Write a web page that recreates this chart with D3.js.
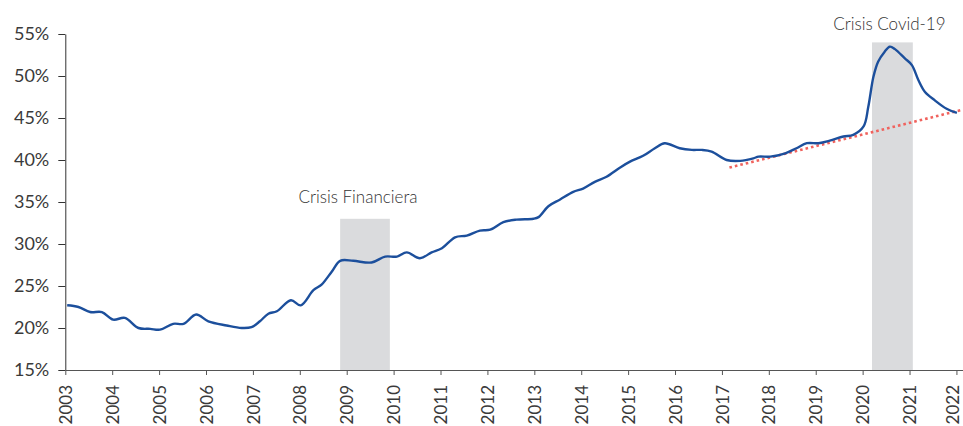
<!DOCTYPE html>
<html>
<head>
<meta charset="utf-8">
<script src="https://cdn.jsdelivr.net/npm/d3@7"></script>
<style>
  html, body { margin: 0; padding: 0; background: #ffffff; }
  svg { display: block; }
  .tick text { font-family: Lato, "Open Sans", sans-serif; fill: #3a3a3a; }
  .annot { font-family: Lato, "Open Sans", sans-serif; font-weight: 300; fill: #333; }
</style>
</head>
<body>
<svg id="chart" width="963" height="426"></svg>
<script>
// ---- Data (decimal year, percent) ----
const dates = [
  2003.04, 2003.28, 2003.53, 2003.78, 2004.02, 2004.27, 2004.56, 2004.81,
  2005.02, 2005.30, 2005.52, 2005.79, 2006.05, 2006.44, 2006.76, 2006.97,
  2007.15, 2007.33, 2007.51, 2007.81, 2008.02, 2008.29, 2008.47, 2008.68,
  2008.86, 2009.14, 2009.53, 2009.82, 2010.07, 2010.28, 2010.56, 2010.81,
  2011.03, 2011.31, 2011.56, 2011.84, 2012.06, 2012.34, 2012.62, 2012.98,
  2013.09, 2013.30, 2013.55, 2013.83, 2014.04, 2014.29, 2014.54, 2014.83,
  2015.04, 2015.32, 2015.57, 2015.78, 2016.10, 2016.36, 2016.57, 2016.78,
  2017.10, 2017.39, 2017.67, 2017.78, 2018.03, 2018.35, 2018.59, 2018.81,
  2019.06, 2019.30, 2019.59, 2019.80, 2020.02, 2020.12, 2020.23, 2020.33,
  2020.47, 2020.58, 2020.69, 2020.90, 2021.05, 2021.19, 2021.33, 2021.54,
  2021.79, 2022.01
];
const values = [
  22.7, 22.5, 21.9, 21.9, 21.0, 21.2, 20.0, 19.9,
  19.8, 20.5, 20.5, 21.6, 20.8, 20.3, 20.0, 20.1,
  20.8, 21.7, 22.0, 23.3, 22.7, 24.5, 25.2, 26.7,
  28.0, 28.0, 27.8, 28.5, 28.5, 29.0, 28.3, 29.0,
  29.5, 30.8, 31.0, 31.6, 31.7, 32.6, 32.9, 33.0,
  33.2, 34.5, 35.3, 36.2, 36.6, 37.4, 38.0, 39.1,
  39.8, 40.5, 41.4, 42.0, 41.4, 41.2, 41.2, 41.0,
  40.0, 39.9, 40.2, 40.4, 40.4, 40.8, 41.4, 42.0,
  42.0, 42.3, 42.8, 43.0, 44.0, 46.3, 49.9, 51.7,
  52.9, 53.5, 53.2, 52.1, 51.3, 49.5, 48.1, 47.1,
  46.1, 45.6
];

// Trend (dotted red line)
const trendDates = [2017.16, 2022.14];
const trendValues = [39.1, 46.0];

// Crisis shaded periods
const crisisLabels = ["Crisis Financiera", "Crisis Covid-19"];
const crisisStart = [2008.86, 2020.20];
const crisisEnd = [2009.92, 2021.07];
const crisisTop = [33.0, 54.0];

// Ticks
const yearTicks = d3.range(2003, 2023);
const yTicks = [15, 20, 25, 30, 35, 40, 45, 50, 55];

// ---- Chart ----
const svg = d3.select("#chart");
const x = d3.scaleLinear().domain([2003, 2022.14]).range([65.3, 963]);
const y = d3.scaleLinear().domain([15, 55]).range([370, 34]);

// shaded rects
const g = svg.append("g");
g.selectAll("rect.crisis")
  .data(crisisLabels.map((l, i) => ({l, s: crisisStart[i], e: crisisEnd[i], t: crisisTop[i]})))
  .join("rect")
  .attr("class", "crisis")
  .attr("x", d => x(d.s))
  .attr("width", d => x(d.e) - x(d.s))
  .attr("y", d => y(d.t))
  .attr("height", d => y(15) - y(d.t))
  .attr("fill", "#dadbdd");

// labels
const labelOffsets = [{dx: -7, dy: -16}, {dx: -3, dy: -12}];
g.selectAll("text.annot")
  .data(crisisLabels.map((l, i) => ({l, s: crisisStart[i], e: crisisEnd[i], t: crisisTop[i], o: labelOffsets[i]})))
  .join("text")
  .attr("class", "annot")
  .attr("x", d => (x(d.s) + x(d.e)) / 2 + d.o.dx)
  .attr("y", d => y(d.t) + d.o.dy)
  .attr("text-anchor", "middle")
  .attr("font-size", 17)
  .text(d => d.l);

// axes
const yAxis = d3.axisLeft(y).tickValues(yTicks).tickFormat(d => d + "%").tickSize(7).tickSizeOuter(0).tickPadding(9);
const yg = svg.append("g").attr("transform", `translate(${x(2003)},0)`).call(yAxis);
yg.selectAll("text").attr("font-size", 18);
yg.selectAll("line, path").attr("stroke", "#333");

const xAxis = d3.axisBottom(x).tickValues(yearTicks).tickFormat(d3.format("d")).tickSize(5).tickSizeOuter(0);
const xg = svg.append("g").attr("transform", `translate(0,${y(15)})`).call(xAxis);
xg.selectAll("line, path").attr("stroke", "#555");
xg.selectAll("text")
  .attr("font-size", 17)
  .attr("transform", d => (x(d) > 950 ? "translate(-4,0) " : "") + "rotate(-90)")
  .attr("text-anchor", "end")
  .attr("x", -15)
  .attr("y", 0)
  .attr("dy", "0.36em");

// trend line
const pts = dates.map((d, i) => [d, values[i]]);
const trend = trendDates.map((d, i) => [d, trendValues[i]]);
svg.append("path")
  .datum(trend)
  .attr("d", d3.line().x(d => x(d[0])).y(d => y(d[1])))
  .attr("fill", "none")
  .attr("stroke", "#f0625d")
  .attr("stroke-width", 2.6)
  .attr("stroke-dasharray", "2.6 3");

// main line
svg.append("path")
  .datum(pts)
  .attr("d", d3.line().x(d => x(d[0])).y(d => y(d[1])).curve(d3.curveCatmullRom.alpha(0.5)))
  .attr("fill", "none")
  .attr("stroke", "#1c4f9c")
  .attr("stroke-width", 2.4)
  .attr("stroke-linejoin", "round");
</script>
</body>
</html>
